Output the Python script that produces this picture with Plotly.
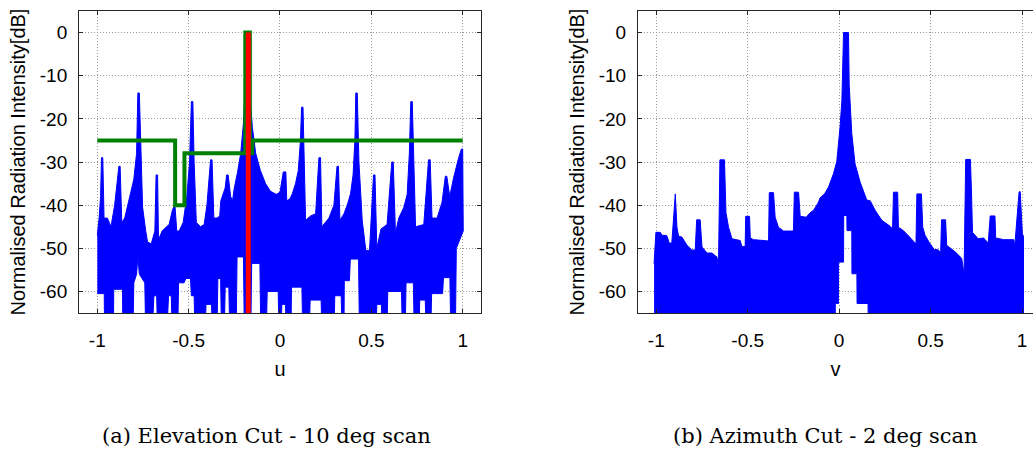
import plotly.graph_objects as go

# ---------------- data: (a) elevation cut, u-space ----------------
# upper envelope of the dense pattern
u_top = [-1.000, -0.990, -0.982, -0.977, -0.970, -0.963, -0.945, -0.925, -0.905, -0.890,
         -0.882, -0.875, -0.866, -0.850, -0.836, -0.816, -0.800, -0.785, -0.778, -0.770,
         -0.760, -0.752, -0.735, -0.725, -0.705, -0.685, -0.678, -0.670, -0.665, -0.645,
         -0.634, -0.607, -0.588, -0.575, -0.565, -0.552, -0.530, -0.510, -0.495, -0.485,
         -0.477, -0.470, -0.458, -0.435, -0.415, -0.400, -0.380, -0.372, -0.362, -0.345,
         -0.330, -0.324, -0.300, -0.292, -0.284, -0.270, -0.260, -0.250, -0.233, -0.215,
         -0.200, -0.192, -0.185, -0.175, -0.168, -0.160, -0.151, -0.133, -0.107, -0.079,
         -0.052, -0.020, 0.000, 0.018, 0.032, 0.037, 0.055, 0.067, 0.085, 0.100,
         0.112, 0.118, 0.126, 0.135, 0.140, 0.168, 0.195, 0.213, 0.222, 0.229,
         0.250, 0.268, 0.295, 0.312, 0.320, 0.328, 0.350, 0.368, 0.386, 0.400,
         0.410, 0.415, 0.423, 0.432, 0.450, 0.470, 0.490, 0.512, 0.520, 0.530,
         0.553, 0.586, 0.612, 0.620, 0.632, 0.650, 0.678, 0.696, 0.708, 0.716,
         0.724, 0.735, 0.742, 0.787, 0.813, 0.822, 0.832, 0.860, 0.887, 0.905,
         0.913, 0.929, 0.951, 0.978, 0.993, 1.000, 1.003]
db_top = [-47, -43, -38, -29, -29, -43, -43, -45, -40, -35,
          -31, -31, -44, -43, -40.5, -37.5, -34, -28, -14, -14,
          -30, -40.5, -46, -48.5, -49, -46, -33, -33, -48, -46,
          -45.5, -44.5, -41, -40, -46, -46, -44, -38, -30, -16,
          -16, -30, -44, -45, -44.5, -40, -29.5, -29.5, -43, -43,
          -42.5, -39, -36, -33, -33, -38, -39, -36, -32.5, -28,
          -21, -14, -2, 0, -2, -17, -22, -28, -32, -35,
          -36.8, -37.5, -37, -32.3, -32.3, -39, -38.5, -37.4, -35, -32,
          -25, -17.3, -17.3, -32, -43.5, -42.5, -42, -29, -29, -45,
          -44, -43, -40, -31, -31, -43.5, -42, -40, -37.4, -33,
          -25, -14, -14, -30, -43.5, -50.5, -50.5, -33, -33, -50,
          -45.5, -44.5, -30, -30, -46.5, -43, -40.5, -37.5, -28, -16,
          -16, -35, -45, -44.5, -29.5, -29.5, -43, -43, -39.3, -33.3,
          -33.3, -38, -33.5, -29, -27, -27, -46]
# lower envelope (nulls deeper than the axis floor given as -70)
u_bot = [-1.000, -0.962, -0.960, -0.912, -0.910, -0.862, -0.860, -0.805, -0.800, -0.785,
         -0.778, -0.770, -0.740, -0.735, -0.700, -0.690, -0.675, -0.670, -0.620, -0.610,
         -0.595, -0.590, -0.560, -0.555, -0.525, -0.515, -0.490, -0.485, -0.470, -0.465,
         -0.410, -0.405, -0.375, -0.370, -0.345, -0.340, -0.325, -0.320, -0.305, -0.300,
         -0.280, -0.275, -0.240, -0.235, -0.200, -0.195, -0.160, -0.155, -0.110, -0.105,
         -0.075, -0.070, -0.010, -0.005, 0.005, 0.010, 0.030, 0.035, 0.060, 0.063,
         0.120, 0.125, 0.160, 0.165, 0.225, 0.230, 0.295, 0.300, 0.335, 0.340,
         0.350, 0.352, 0.380, 0.385, 0.430, 0.435, 0.525, 0.530, 0.555, 0.560,
         0.585, 0.590, 0.665, 0.670, 0.685, 0.690, 0.730, 0.735, 0.760, 0.765,
         0.795, 0.800, 0.825, 0.830, 0.890, 0.895, 0.930, 0.935, 0.960, 0.965,
         1.003]
db_bot = [-60.5, -60.5, -70, -70, -59.5, -59.5, -70, -70, -58, -56,
          -52, -56, -58, -70, -70, -61, -61, -70, -70, -61,
          -61, -70, -70, -58, -58, -57, -57, -61, -61, -70,
          -70, -63, -63, -70, -70, -57, -57, -70, -70, -59,
          -59, -70, -70, -52, -52, -70, -70, -53.5, -53.5, -70,
          -70, -60, -60, -70, -70, -63, -63, -70, -70, -59,
          -59, -70, -70, -62, -62, -70, -70, -61, -61, -70,
          -70, -57.5, -57.5, -52.5, -52.5, -70, -70, -63, -63, -70,
          -70, -60, -60, -70, -70, -58, -58, -70, -70, -62,
          -62, -70, -70, -60.5, -60.5, -56.8, -56.8, -70, -70, -50,
          -46]

# scan direction marker (10 deg scan -> u = -sin(10 deg))
u_scan = [-0.1736, -0.1736]
db_scan = [0, -70]

# sidelobe mask
u_mask = [-1.0, -0.574, -0.574, -0.523, -0.523, -0.190, -0.190, -0.165, -0.165, -0.152, -0.152, 1.0]
db_mask = [-25, -25, -40, -40, -28, -28, 0, 0, -28, -28, -25, -25]

# ---------------- data: (b) azimuth cut, v-space ----------------
v_top = [-1.012, -1.008, -1.002, -0.978, -0.969, -0.945, -0.940, -0.929, -0.915, -0.896,
         -0.887, -0.878, -0.860, -0.832, -0.805, -0.787, -0.779, -0.760, -0.750, -0.723,
         -0.696, -0.678, -0.668, -0.660, -0.652, -0.627, -0.619, -0.605, -0.586, -0.541,
         -0.532, -0.514, -0.511, -0.490, -0.486, -0.468, -0.386, -0.382, -0.359, -0.350,
         -0.332, -0.304, -0.250, -0.245, -0.222, -0.213, -0.180, -0.160, -0.140, -0.115,
         -0.104, -0.080, -0.058, -0.031, -0.013, 0.005, 0.015, 0.024, 0.051, 0.055,
         0.069, 0.087, 0.115, 0.151, 0.170, 0.197, 0.233, 0.279, 0.292, 0.297,
         0.320, 0.324, 0.351, 0.379, 0.406, 0.420, 0.425, 0.450, 0.457, 0.470,
         0.492, 0.520, 0.540, 0.555, 0.560, 0.582, 0.588, 0.634, 0.670, 0.683,
         0.692, 0.718, 0.725, 0.729, 0.760, 0.790, 0.815, 0.826, 0.852, 0.856,
         0.900, 0.955, 0.960, 0.984, 0.990, 1.002, 1.008]
dv_top = [-53.6, -49.3, -46.3, -46.3, -47.0, -47.0, -47.3, -48.8, -48.8, -37.4,
          -45.1, -47.2, -47.4, -49.3, -50.4, -50.4, -43.4, -43.4, -49.7, -51.1,
          -51.1, -51.7, -52.0, -54.5, -29.5, -29.5, -41.7, -45.1, -47.8, -48.2,
          -49.6, -49.6, -42.6, -42.6, -47.6, -48.0, -48.3, -37.1, -37.1, -42.8,
          -45.1, -46.0, -46.0, -37.0, -37.0, -42.6, -42.8, -41.8, -41.2, -39.5,
          -38.3, -37.4, -35.8, -32.7, -29.9, -21.9, -15.7, 0.0, 0.0, -12.2,
          -23.4, -30.4, -34.7, -38.8, -39.0, -41.2, -43.5, -44.9, -45.5, -37.0,
          -37.0, -45.1, -45.9, -47.1, -48.3, -49.0, -37.4, -37.4, -45.1, -47.0,
          -48.6, -50.3, -50.3, -51.0, -43.4, -43.4, -49.3, -50.8, -52.3, -56.0,
          -29.4, -29.4, -38.9, -46.3, -47.8, -47.6, -48.8, -42.5, -42.5, -47.6,
          -48.0, -48.0, -49.6, -36.9, -36.9, -46.7, -47.2]
v_bot = [-1.012, -0.022, -0.021, -0.004, -0.003, 0.024, 0.025, 0.042, 0.043, 0.069,
         0.070, 0.097, 0.098, 0.158, 0.160, 1.008]
dv_bot = [-70, -70, -62.8, -62.8, -53.2, -53.2, -42.4, -42.4, -45.9, -45.9,
          -55.9, -55.9, -62.8, -62.8, -70, -70]

# ---------------- tick labels ----------------
x_ticks = [-1, -0.5, 0, 0.5, 1]
x_ticktext = ["-1", "-0.5", "0", "0.5", "1"]
y_ticks = [0, -10, -20, -30, -40, -50, -60]
y_ticktext = ["0", "-10", "-20", "-30", "-40", "-50", "-60"]

BLUE = "#0000ff"
fig = go.Figure()

fig.add_trace(go.Scatter(x=u_top + u_bot[::-1], y=db_top + db_bot[::-1], fill="toself",
                         fillcolor=BLUE, line=dict(color=BLUE, width=1), mode="lines",
                         xaxis="x", yaxis="y", hoverinfo="skip"))
fig.add_trace(go.Scatter(x=u_mask, y=db_mask, mode="lines",
                         line=dict(color="#008000", width=4), xaxis="x", yaxis="y"))
fig.add_trace(go.Scatter(x=u_scan, y=db_scan, mode="lines",
                         line=dict(color="#ff0000", width=5), xaxis="x", yaxis="y"))
fig.add_trace(go.Scatter(x=v_top + v_bot[::-1], y=dv_top + dv_bot[::-1], fill="toself",
                         fillcolor=BLUE, line=dict(color=BLUE, width=1), mode="lines",
                         xaxis="x2", yaxis="y2", hoverinfo="skip"))

AX = "#262626"
FONT = dict(family="Liberation Sans, Arial, sans-serif", size=19, color="#000000")
TFONT = dict(family="Liberation Sans, Arial, sans-serif", size=20, color="#000000")
GRID = dict(showgrid=True, gridcolor="#9a9a9a", griddash="1px,2px", gridwidth=1)
common_x = dict(tickvals=x_ticks, ticktext=x_ticktext, zeroline=False, showline=True,
                linecolor=AX, linewidth=1, ticks="inside", ticklen=4, tickcolor=AX,
                tickfont=FONT, ticklabelstandoff=10, **GRID)
common_y = dict(tickvals=y_ticks, ticktext=y_ticktext, range=[-65, 5], zeroline=False,
                showline=True, linecolor=AX, linewidth=1, ticks="inside", ticklen=4,
                tickcolor=AX, tickfont=FONT, ticklabelstandoff=7, **GRID)

fig.update_layout(
    width=1033, height=450, margin=dict(l=0, r=0, t=0, b=0),
    paper_bgcolor="white", plot_bgcolor="white", showlegend=False,
    xaxis=dict(common_x, domain=[0.0765, 0.4656], range=[-1.1, 1.1], mirror="ticks",
               anchor="y", title=dict(text="u", font=TFONT, standoff=12)),
    yaxis=dict(common_y, domain=[0.3044, 0.9756], mirror="ticks", anchor="x",
               title=dict(text="Normalised Radiation Intensity[dB]", font=TFONT, standoff=8)),
    xaxis2=dict(common_x, domain=[0.6176, 1.0], range=[-1.1, 1.06], mirror="ticks",
                anchor="y2", title=dict(text="v", font=TFONT, standoff=12)),
    yaxis2=dict(common_y, domain=[0.3044, 0.9756], mirror=False, anchor="x2",
                title=dict(text="Normalised Radiation Intensity[dB]", font=TFONT, standoff=8)),
)

CAP = dict(family="DejaVu Serif, serif", size=21, color="#000000")
fig.add_annotation(text="(a) Elevation Cut - 10 deg scan", x=266 / 1033, y=1 - 436 / 450,
                   xref="paper", yref="paper", showarrow=False, font=CAP,
                   xanchor="center", yanchor="middle")
fig.add_annotation(text="(b) Azimuth Cut - 2 deg scan", x=825 / 1033, y=1 - 436 / 450,
                   xref="paper", yref="paper", showarrow=False, font=CAP,
                   xanchor="center", yanchor="middle")

fig.write_html("out.html")
